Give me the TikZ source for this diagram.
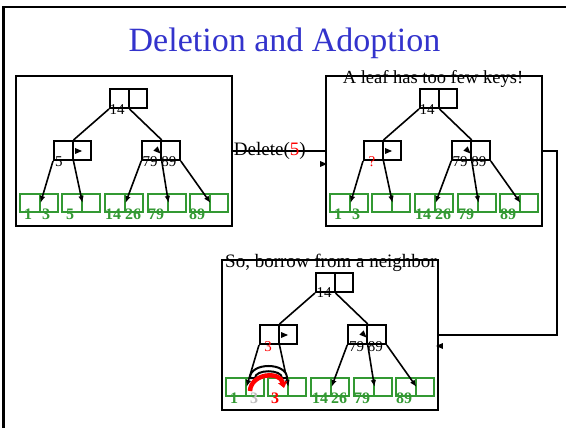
\documentclass[tikz,border=0pt]{standalone}
\usepackage{fontspec}
\setmainfont{Liberation Serif}
\usetikzlibrary{arrows.meta,shapes.geometric,calc}
\definecolor{titleblue}{RGB}{51,51,204}
\definecolor{leafgreen}{RGB}{51,153,51}
\definecolor{ghost}{RGB}{190,190,190}

\tikzset{
  panel/.style={draw, line width=2pt, inner sep=0pt, minimum width=216pt, minimum height=150pt},
  bcell/.style={draw, line width=2pt, inner sep=0pt, minimum width=18.5pt, minimum height=19pt},
  gcell/.style={draw=leafgreen, line width=2pt, inner sep=0pt, minimum height=18pt},
  gleft/.style={gcell, minimum width=19.5pt},
  gright/.style={gcell, minimum width=18.5pt},
  edge/.style={line width=1.6pt},
  ptr/.style={edge, -{Latex[length=7pt,width=5.5pt]}},
  ahd/.style={isosceles triangle, fill=black, inner sep=0pt, minimum height=7pt,
              minimum width=6pt, isosceles triangle stretches},
  link/.style={line width=2pt},
  keylbl/.style={anchor=base, inner sep=0pt, font=\fontsize{15}{18}\selectfont},
  leaflbl/.style={anchor=base, inner sep=0pt, text=leafgreen, font=\bfseries\fontsize{16}{19}\selectfont},
  caption/.style={anchor=base, inner sep=0pt, font=\fontsize{19}{22}\selectfont}
}

% One two-level tree in its frame; #1 = name prefix, (#2,#3) = top-left corner
\newcommand\bplustree[3]{%
\begin{scope}[shift={(#2,#3)}]
  \node[panel] (#1box) at (108,75) {};
  \node[bcell] (#1ra) at (103.25,22.5) {};
  \node[bcell] (#1rb) at (121.75,22.5) {};
  \node[bcell] (#1la) at (47.25,74.5) {};
  \node[bcell] (#1lb) at (65.75,74.5) {};
  \node[bcell] (#1ca) at (135.5,74.5) {};
  \node[bcell] (#1cb) at (154.5,74.5) {};
  \foreach \s [count=\i] in {4,46,89,132,174} {
    \node[gleft] (#1L\i-a) at (\s+9.75,127) {};
    \node[gright] (#1L\i-b) at (\s+29,127) {};
  }
  \draw[edge] (#1ra.south west) -- (#1la.north east);
  \draw[edge] (#1ra.south east) -- (#1ca.north east);
  \node[ahd] (#1pa) at (61,75) {};
  \node[ahd, rotate=-45] (#1pb) at (141,74) {};
  \draw[ptr] (#1la.south west) -- (#1L1-a.east);
  \draw[ptr] (#1la.south east) -- (#1L2-a.east);
  \draw[ptr] (#1ca.south west) -- (#1L3-a.east);
  \draw[ptr] (#1ca.south east) -- (#1L4-a.east);
  \draw[ptr] (#1cb.south east) -- (#1L5-a.east);
\end{scope}}

\begin{document}
\begin{tikzpicture}[x=1pt, y=-1pt]
\useasboundingbox (0,0) rectangle (566,428);

% slide frame
\coordinate (fr1) at (566,7);
\coordinate (fr2) at (3.5,7);
\coordinate (fr3) at (3.5,428);
\draw[line width=2.5pt] (fr1) -- (fr2) -- (fr3);

\node[anchor=base, inner sep=0pt, text=titleblue, font=\fontsize{34}{40}\selectfont]
  (title) at (284.5,52) {Deletion and Adoption};

% the three stages
\bplustree{p}{16}{76}
\bplustree{q}{326}{76}
\bplustree{s}{222}{260}

% keys of the first tree
\begin{scope}[shift={(16,76)}]
  \node[keylbl] (p14) at (101,39) {14};
  \node[keylbl] (p5) at (43,91) {5};
  \node[keylbl] (p7989) at (143.5,91) {79 89};
  \node[leaflbl] (pk1) at (12,143) {1};
  \node[leaflbl] (pk3) at (30,143) {3};
  \node[leaflbl] (pk5) at (54,143) {5};
  \node[leaflbl] (pk14) at (97,143) {14};
  \node[leaflbl] (pk26) at (117,143) {26};
  \node[leaflbl] (pk79) at (140,143) {79};
  \node[leaflbl] (pk89) at (181,143) {89};
\end{scope}

% keys of the second tree
\begin{scope}[shift={(326,76)}]
  \node[keylbl] (q14) at (101,39) {14};
  \node[keylbl, text=red] (qq) at (46,91) {?};
  \node[keylbl] (q7989) at (143.5,91) {79 89};
  \node[leaflbl] (qk1) at (12,143) {1};
  \node[leaflbl] (qk3) at (30,143) {3};
  \node[leaflbl] (qk14) at (97,143) {14};
  \node[leaflbl] (qk26) at (117,143) {26};
  \node[leaflbl] (qk79) at (140,143) {79};
  \node[leaflbl] (qk89) at (182,143) {89};
\end{scope}

% keys of the third tree
\begin{scope}[shift={(222,260)}]
  \node[keylbl] (s14) at (102,38) {14};
  \node[keylbl, text=red] (s3) at (46,91) {3};
  \node[keylbl] (s7989) at (144,91) {79 89};
  \node[leaflbl] (sk1) at (12,143) {1};
  \node[leaflbl, text=ghost] (sk3) at (32,143) {3};
  \node[leaflbl, text=red] (sk3n) at (53,143) {3};
  \node[leaflbl] (sk14) at (98,143) {14};
  \node[leaflbl] (sk26) at (117,143) {26};
  \node[leaflbl] (sk79) at (140,143) {79};
  \node[leaflbl] (sk89) at (182,143) {89};
\end{scope}

% captions
\node[caption, font=\fontsize{18.5}{22}\selectfont] (cap2) at (433,84) {A leaf has too few keys!};
\node[caption] (cap3) at (331,267) {So, borrow from a neighbor};

% step connectors
\draw[link] (pbox.east) -- (qbox.west)
  node[caption, pos=0.4, yshift=-5pt] (del) {Delete(\textcolor{red}{5})};
\node[ahd] (h1) at (322,164) {};
\coordinate (turn) at ($(qbox.east)+(14,0)$);
\draw[link] (qbox.east) -- (turn) |- (sbox.east);
\node[ahd, rotate=180] (h2) at (441,346) {};

% borrowing the key 3 from the sibling leaf
\coordinate (bo1) at (250,378);
\coordinate (bo2) at (287,378);
\coordinate (bi1) at (255,378);
\coordinate (bi2) at (282,378);
\draw[line width=2pt, fill=white]
  (bo1) .. controls (250,362) and (287,362) .. (bo2) -- (bi2)
  .. controls (282,369) and (255,369) .. (bi1) -- cycle;
\coordinate (rb1) at (250,391);
\coordinate (rb2) at (284,388);
\draw[red, line width=4.5pt, -{Triangle[length=6pt,width=9pt]}]
  (rb1) .. controls (251,373) and (280,371) .. (rb2);
\end{tikzpicture}
\end{document}
